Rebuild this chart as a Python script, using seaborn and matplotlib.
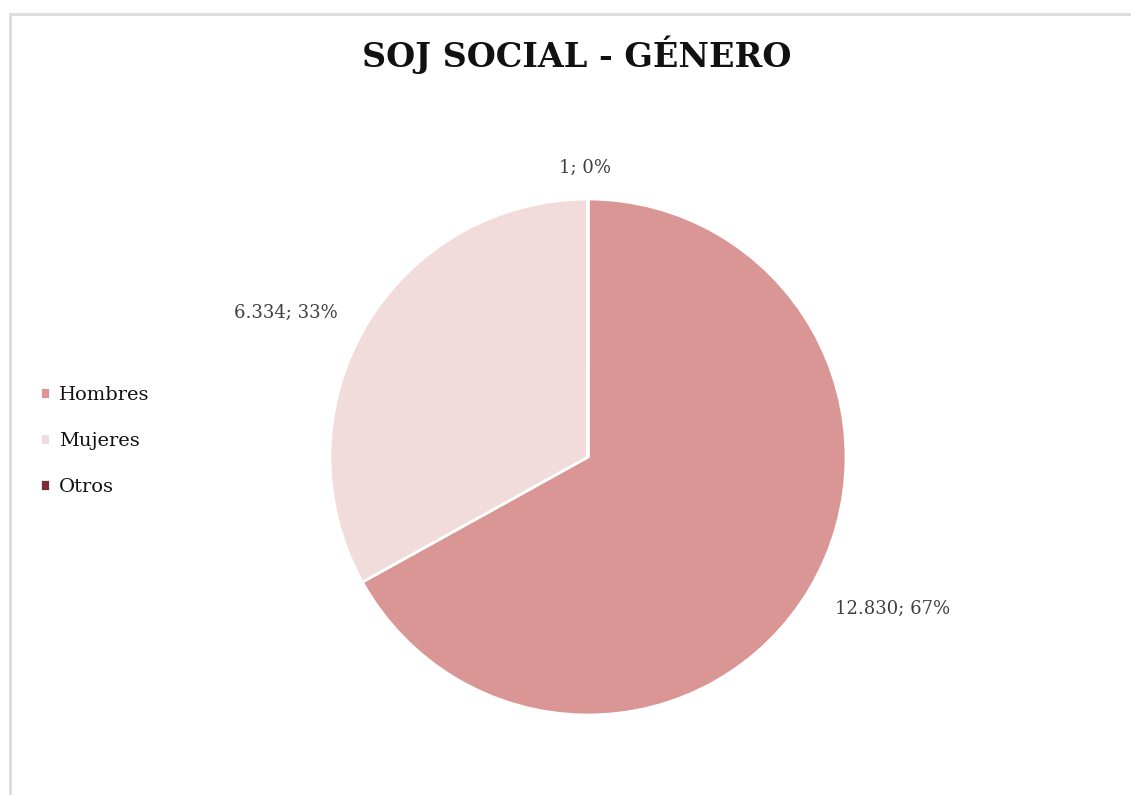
import matplotlib
matplotlib.use("Agg")
import matplotlib.pyplot as plt
import seaborn as sns
from matplotlib.patches import Rectangle

sns.set_theme(style="white")
plt.rcParams['font.family'] = ['DejaVu Serif']

# data
categories = ["Hombres", "Mujeres", "Otros"]
values = [12830, 6334, 1]
pct_labels = ["67%", "33%", "0%"]
value_labels = ["12.830", "6.334", "1"]
colors = ["#d99694", "#f2dcdb", "#7b2b36"]

fig = plt.figure(figsize=(11.31, 7.95), dpi=100)

# chart frame
fig.patches.append(Rectangle((10 / 1131, -0.05), 1.2, 1 - 14 / 795 + 0.05,
                             transform=fig.transFigure, fill=False,
                             edgecolor="#dedede", linewidth=2.2))

ax = fig.add_axes([330 / 1131, 80 / 795, 516 / 1131, 516 / 795])
wedges, _ = ax.pie(values, colors=colors, startangle=90, counterclock=False,
                   wedgeprops=dict(edgecolor="white", linewidth=2),
                   labels=[f"{v}; {p}" for v, p in zip(value_labels, pct_labels)],
                   labeldistance=1.3, textprops=dict(color="#404040", fontsize=13))
ax.set_xlim(-1, 1)
ax.set_ylim(-1, 1)
ax.set_aspect("equal")

# Excel-like label spots
txts = [t for t in ax.texts]
spots = [(1.18, -0.59), (-1.17, 0.56), (-0.01, 1.12)]
for t, (x, y) in zip(txts, spots):
    t.set_position((x, y))
    t.set_ha("center")
    t.set_va("center")

fig.text(0.51, 1 - 55 / 795, "SOJ SOCIAL - GÉNERO", ha="center", va="center",
         fontsize=24, fontweight="bold", color="#111111")

fig.legend(wedges, categories, loc="center left", bbox_to_anchor=(22 / 1131, 1 - 441 / 795),
           frameon=False, handlelength=0.55, handleheight=0.55, handletextpad=0.45,
           labelspacing=1.45, fontsize=14, labelcolor="#111111")

fig.savefig("out.png", dpi=100)
